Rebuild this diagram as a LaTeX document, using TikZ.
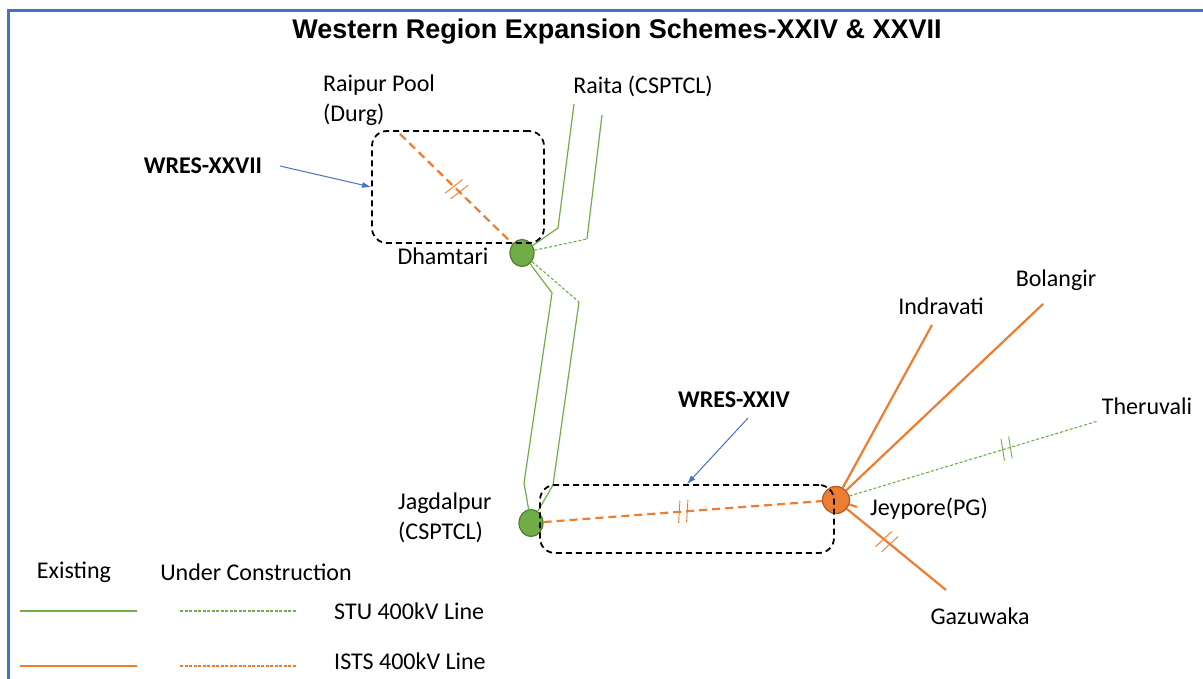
\documentclass[tikz,border=0pt]{standalone}
\usepackage{fontspec}
\setmainfont{Carlito}
\newfontfamily\titlefont{Liberation Sans}
\usetikzlibrary{arrows.meta,decorations.markings,backgrounds,shapes.geometric}
\definecolor{lgreen}{HTML}{70AD47}
\definecolor{dgreen}{HTML}{507E32}
\definecolor{lorange}{HTML}{ED7D31}
\definecolor{dorange}{HTML}{AE5A21}
\definecolor{frameblue}{HTML}{4472C4}
\begin{document}
\begin{tikzpicture}[x=1pt,y=-1pt,
  lbl/.style={font=\fontsize{24}{30}\selectfont, inner sep=0pt, align=left},
  blbl/.style={font=\fontsize{24}{30}\selectfont\bfseries, inner sep=0pt},
  gline/.style={draw=lgreen, line width=1.2pt},
  gdash/.style={draw=lgreen, line width=1.1pt, dash pattern=on 3pt off 2pt},
  oline/.style={draw=lorange, line width=2.2pt},
  odash/.style={draw=lorange, line width=2.2pt, dash pattern=on 8pt off 5pt},
  dbox/.style={draw=black, line width=1.8pt, dash pattern=on 6pt off 4pt, rounded corners=15pt, inner sep=0pt},
  gnode/.style={ellipse, fill=lgreen, draw=dgreen, line width=1.2pt, minimum width=24pt, minimum height=27pt, inner sep=0pt},
  onode/.style={circle, fill=lorange, draw=dorange, line width=1.2pt, minimum size=27pt, inner sep=0pt},
  callout/.style={draw=frameblue, line width=1pt, -{Latex[length=9pt,width=6pt]}},
  dbltick/.style 2 args={postaction={decorate, decoration={markings,
      mark=at position #1 with {\draw[#2, solid, line width=0.9pt] (-5,11) -- (-2,-11) (3,11) -- (6,-11);}}}}
]
\useasboundingbox (0,0) rectangle (1203,679);
% frame
\draw[frameblue, line width=3pt] (8,679) -- (8,11) -- (1210,11);
% title
\node[font=\titlefont\fontsize{27}{32}\selectfont\bfseries, inner sep=0pt] (title) at (617,32) {Western Region Expansion Schemes-XXIV \& XXVII};

% substations
\node[gnode] (dham) at (522,253) {};
\node[gnode] (jag) at (531,523) {};
\node[onode] (jey) at (836,500) {};

% labels
\node[lbl, anchor=west] (raipurlbl) at (323,100) {Raipur Pool\\(Durg)};
\node[lbl] (raitalbl) at (643,86) {Raita (CSPTCL)};
\node[lbl] (dhamlbl) at (443,256) {Dhamtari};
\node[lbl, anchor=west] (jaglbl) at (398,518) {Jagdalpur\\(CSPTCL)};
\node[lbl] (jeylbl) at (929,509) {Jeypore(PG)};
\node[lbl] (indlbl) at (941,306) {Indravati};
\node[lbl] (bollbl) at (1056,280) {Bolangir};
\node[lbl] (therlbl) at (1147,406) {Theruvali};
\node[lbl] (gazlbl) at (980,616) {Gazuwaka};
\node[blbl] (w27) at (203,166) {WRES-XXVII};
\node[blbl] (w24) at (734,400) {WRES-XXIV};

% scheme boxes
\node[dbox, minimum width=172pt, minimum height=112pt] (box27) at (458,187) {};
\node[dbox, minimum width=294pt, minimum height=68pt] (box24) at (687,519) {};

% coordinates
\coordinate (raipur) at (400,134);
\coordinate (ra1b) at (558,228);
\coordinate (ra1) at (574,104);
\coordinate (ra2b) at (587,239);
\coordinate (ra2) at (602,115);
\coordinate (d1a) at (552,293);
\coordinate (d1b) at (524,483);
\coordinate (d2a) at (579,302);
\coordinate (d2b) at (553,485);
\coordinate (ind) at (932,325);
\coordinate (bol) at (1043,304);
\coordinate (ther) at (1098,421);
\coordinate (gaz) at (946,590);
\coordinate (jstub) at (860,508);
\coordinate (a27) at (280,166);
\coordinate (a24) at (748,418);

\begin{pgfonlayer}{background}
% Raita lines
\draw[gline] (dham) -- (ra1b) -- (ra1);
\draw[gdash] (dham) -- (ra2b);
\draw[gline] (ra2b) -- (ra2);
% Dhamtari - Jagdalpur
\draw[gline] (dham) -- (d1a) -- (d1b) -- (jag);
\draw[gdash] (dham) -- (d2a);
\draw[gline] (d2a) -- (d2b) -- (jag);
% Raipur - Dhamtari
\draw[odash, dbltick={0.5}{lorange}] (raipur) -- (dham);
% Jagdalpur - Jeypore
\draw[odash, dbltick={0.5}{lorange}] (jag) -- (jey);
\draw[odash] (jey) -- (jstub);
% Jeypore lines
\draw[oline] (jey) -- (ind);
\draw[oline] (jey) -- (bol);
\draw[gdash, dbltick={0.63}{lgreen}] (jey) -- (ther);
\draw[oline, dbltick={0.4}{lorange}] (jey) -- (gaz);
\end{pgfonlayer}

% callouts
\draw[callout] (a27) -- (box27.west);
\draw[callout] (a24) -- (box24.north);

% legend
\node[lbl] (leg1) at (74,572) {Existing};
\node[lbl] (leg2) at (256,572) {Under Construction};
\node[lbl, anchor=west] (leg3) at (334,611) {STU 400kV Line};
\node[lbl, anchor=west] (leg4) at (334,661) {ISTS 400kV Line};
\draw[gline, line width=1.5pt] (20,611) -- (137,611);
\draw[gdash, dash pattern=on 3pt off 1.5pt] (180,611) -- (297,611);
\draw[oline, line width=1.8pt] (20,666) -- (137,666);
\draw[draw=lorange, line width=1.3pt, dash pattern=on 3pt off 1.5pt] (180,666) -- (297,666);
\end{tikzpicture}
\end{document}
